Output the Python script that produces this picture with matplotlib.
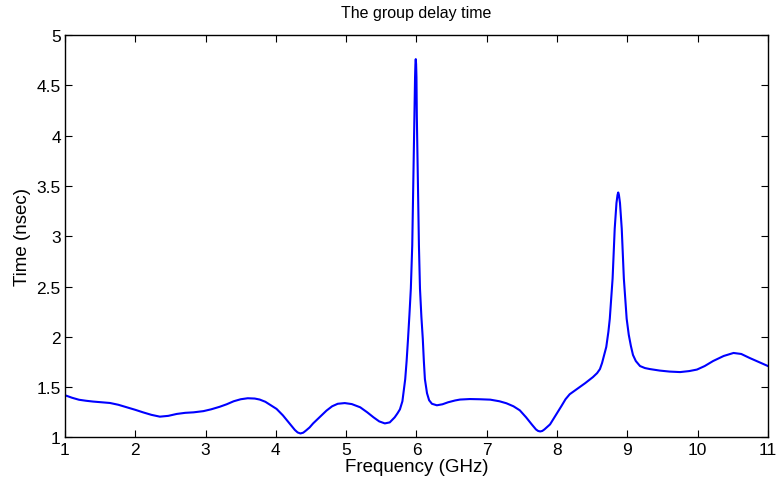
import matplotlib
matplotlib.use("Agg")
import matplotlib.pyplot as plt

# frequency (GHz) and group delay (nsec)
freq = [1.00, 1.10, 1.20, 1.30, 1.40, 1.52, 1.64, 1.76, 1.88, 2.00, 2.11,
        2.23, 2.35, 2.47, 2.59, 2.71, 2.83, 2.97, 3.08, 3.20, 3.30, 3.40,
        3.50, 3.60, 3.70, 3.77, 3.85, 3.93, 4.01, 4.10, 4.20, 4.27, 4.31,
        4.35, 4.39, 4.43, 4.48, 4.53, 4.62, 4.72, 4.80, 4.88, 4.98, 5.08,
        5.20, 5.30, 5.39, 5.47, 5.55, 5.62, 5.69, 5.73, 5.765, 5.80, 5.84,
        5.86, 5.88, 5.90, 5.92, 5.94, 5.955, 5.97, 5.98, 5.985, 5.99, 5.995,
        6.00, 6.005, 6.02, 6.035, 6.05, 6.07, 6.09, 6.105, 6.12, 6.15, 6.18,
        6.22, 6.29, 6.37, 6.45, 6.55, 6.62, 6.76, 6.90, 7.05, 7.18, 7.28,
        7.38, 7.47, 7.56, 7.64, 7.70, 7.73, 7.76, 7.79, 7.82, 7.90, 7.98,
        8.06, 8.12, 8.18, 8.28, 8.40, 8.51, 8.57, 8.61, 8.64, 8.67, 8.70,
        8.73, 8.75, 8.79, 8.82, 8.845, 8.86, 8.87, 8.88, 8.895, 8.92, 8.95,
        8.99, 9.02, 9.05, 9.08, 9.12, 9.18, 9.25, 9.32, 9.46, 9.60, 9.75,
        9.88, 9.99, 10.10, 10.22, 10.37, 10.51, 10.62, 10.74, 10.87, 11.00]
delay = [1.42, 1.395, 1.375, 1.365, 1.357, 1.35, 1.343, 1.325, 1.30, 1.275, 1.25,
         1.225, 1.207, 1.215, 1.234, 1.245, 1.25, 1.262, 1.28, 1.305, 1.33, 1.36,
         1.38, 1.39, 1.387, 1.377, 1.355, 1.32, 1.284, 1.22, 1.134, 1.075, 1.05,
         1.04, 1.048, 1.07, 1.10, 1.14, 1.20, 1.267, 1.31, 1.335, 1.342, 1.332,
         1.30, 1.25, 1.20, 1.16, 1.14, 1.15, 1.20, 1.24, 1.28, 1.36, 1.58,
         1.76, 1.98, 2.22, 2.48, 2.91, 3.54, 4.20, 4.58, 4.71, 4.76, 4.71,
         4.58, 4.20, 3.54, 2.91, 2.48, 2.20, 1.98, 1.76, 1.58, 1.44, 1.37,
         1.335, 1.32, 1.33, 1.35, 1.368, 1.377, 1.382, 1.38, 1.376, 1.36, 1.34,
         1.31, 1.27, 1.20, 1.13, 1.08, 1.065, 1.06, 1.065, 1.08, 1.13, 1.22,
         1.31, 1.38, 1.43, 1.48, 1.54, 1.60, 1.64, 1.68, 1.74, 1.82, 1.90,
         2.05, 2.18, 2.58, 3.075, 3.33, 3.41, 3.435, 3.41, 3.33, 3.075, 2.58,
         2.18, 2.02, 1.91, 1.82, 1.76, 1.71, 1.69, 1.68, 1.665, 1.655, 1.65,
         1.66, 1.675, 1.71, 1.76, 1.81, 1.84, 1.83, 1.79, 1.75, 1.71]

xticks = list(range(1, 12))
yticks = [1, 1.5, 2, 2.5, 3, 3.5, 4, 4.5, 5]
ytick_labels = ["1", "1.5", "2", "2.5", "3", "3.5", "4", "4.5", "5"]

plt.rcParams["font.family"] = ["Liberation Sans", "DejaVu Sans"]

fig = plt.figure(figsize=(7.78, 4.85), dpi=100)
ax = fig.add_axes([0.0835, 0.0959, 0.9036, 0.8299])

ax.plot(freq, delay, color="#0000ff", lw=1.5, solid_joinstyle="round")

ax.set_xlim(1, 11)
ax.set_ylim(1, 5)
ax.set_xticks(xticks)
ax.set_yticks(yticks)
ax.set_yticklabels(ytick_labels)
ax.tick_params(direction="in", length=5, width=0.8, labelsize=12.5,
               top=True, right=True, pad=3)
for s in ax.spines.values():
    s.set_linewidth(1.0)

ax.set_title("The group delay time", fontsize=11.5, pad=13)
ax.set_xlabel("Frequency (GHz)", fontsize=13.5, labelpad=1)
ax.set_ylabel("Time (nsec)", fontsize=13.5, labelpad=4)

fig.savefig("out.png", dpi=100)
